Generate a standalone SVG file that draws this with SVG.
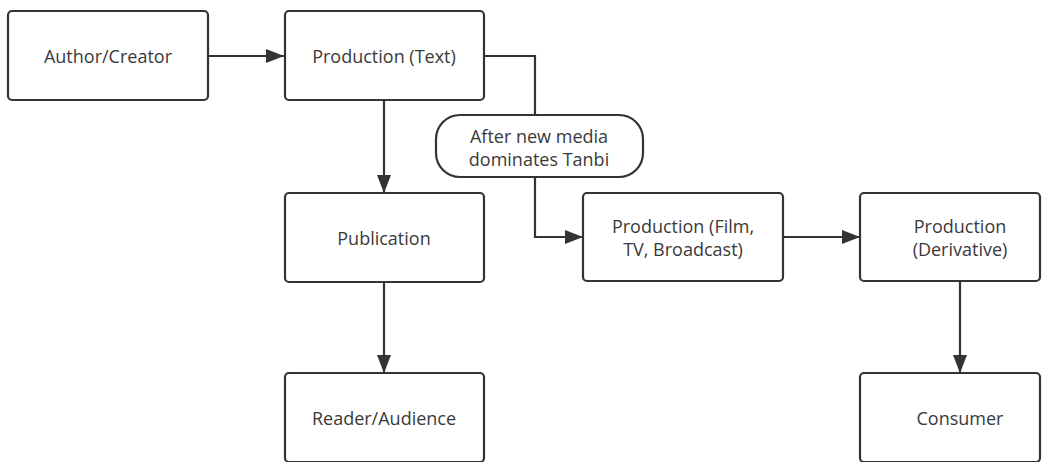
<svg xmlns="http://www.w3.org/2000/svg" width="1047" height="462" viewBox="0 0 1047 462">
<style>
.box{fill:#fff;stroke:#333;stroke-width:2.2}
.t{font-family:"Open Sans","Noto Sans",sans-serif;font-size:18px;fill:#3a3a3a;text-anchor:middle}
.c{fill:none;stroke:#333;stroke-width:2.2}
</style>
<defs>
<marker id="ah" viewBox="0 0 18 14" refX="18" refY="7" markerWidth="18" markerHeight="14" markerUnits="userSpaceOnUse" orient="auto">
<path d="M0,0 L18,7 L0,14 Z" fill="#333"/>
</marker>
</defs>
<rect width="1047" height="462" fill="#fff"/>
<g id="connectors">
<path class="c" d="M208,56 H284" marker-end="url(#ah)"/>
<path class="c" d="M384,100 V193" marker-end="url(#ah)"/>
<path class="c" d="M384,282 V373" marker-end="url(#ah)"/>
<path class="c" d="M484,56 H535 V115"/>
<path class="c" d="M535,177 V237 H583" marker-end="url(#ah)"/>
<path class="c" d="M783,237 H860" marker-end="url(#ah)"/>
<path class="c" d="M960,281 V373" marker-end="url(#ah)"/>
</g>
<g id="author">
<rect class="box" x="8" y="11" width="200" height="89" rx="4"/>
<text class="t" x="108" y="63">Author/Creator</text>
</g>
<g id="prodText">
<rect class="box" x="285" y="11" width="199" height="89" rx="4"/>
<text class="t" x="384" y="63">Production (Text)</text>
</g>
<g id="publication">
<rect class="box" x="285" y="193" width="199" height="89" rx="4"/>
<text class="t" x="384" y="245">Publication</text>
</g>
<g id="reader">
<rect class="box" x="285" y="373" width="199" height="89" rx="4"/>
<text class="t" x="384" y="425">Reader/Audience</text>
</g>
<g id="condition">
<rect class="box" x="436" y="115" width="207" height="62" rx="24"/>
<text class="t" x="539" y="143">After new media</text>
<text class="t" x="539" y="166">dominates Tanbi</text>
</g>
<g id="prodFilm">
<rect class="box" x="583" y="193" width="200" height="88" rx="4"/>
<text class="t" x="683" y="233">Production (Film,</text>
<text class="t" x="683" y="256">TV, Broadcast)</text>
</g>
<g id="prodDeriv">
<rect class="box" x="860" y="193" width="180" height="88" rx="4"/>
<text class="t" x="960" y="233">Production</text>
<text class="t" x="960" y="256">(Derivative)</text>
</g>
<g id="consumer">
<rect class="box" x="860" y="373" width="180" height="89" rx="4"/>
<text class="t" x="960" y="425">Consumer</text>
</g>
</svg>
